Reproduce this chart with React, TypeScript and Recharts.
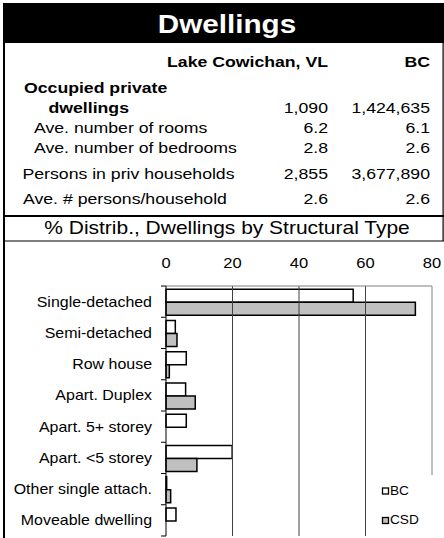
import { BarChart, Bar, XAxis, YAxis, ReferenceLine, Legend } from 'recharts';

// --- data ---
const categories = [
  'Single-detached',
  'Semi-detached',
  'Row house',
  'Apart. Duplex',
  'Apart. 5+ storey',
  'Apart. <5 storey',
  'Other single attach.',
  'Moveable dwelling',
];
const bcValues = [56.3, 2.8, 6.1, 5.9, 6.1, 19.9, 0.2, 3.0];
const csdValues = [75.0, 3.3, 1.0, 8.8, 0, 9.3, 1.4, 0];
const xTicks = [0, 20, 40, 60, 80];
const gridTicks = [20, 40, 60];

const placeName = 'Lake Cowichan, VL';
const provName = 'BC';
const statLabels = [
  'Occupied private',
  'dwellings',
  'Ave. number of rooms',
  'Ave. number of bedrooms',
  'Persons in priv households',
  'Ave. # persons/household',
];
const lakeStats = ['', '1,090', '6.2', '2.8', '2,855', '2.6'];
const bcStats = ['', '1,424,635', '6.1', '2.6', '3,677,890', '2.6'];

// layout of the table rows (x of label, baseline, bold)
const rowX = [24, 48.5, 34, 34, 22.5, 23];
const rowY = [92.5, 112.5, 132.5, 152.5, 178.5, 204];
const rowBold = [true, true, false, false, false, false];

const chartData = categories.map((name, i) => ({ name, BC: bcValues[i], CSD: csdValues[i] }));

const FONT = '"Liberation Sans", Arial, Helvetica, sans-serif';
const SX = 1.14;

function T({ x, y, size, anchor = 'start', bold = false, fill = '#000', sx = SX, children }: any) {
  return (
    <text
      transform={`translate(${x},${y}) scale(${sx},1)`}
      textAnchor={anchor}
      fontSize={size}
      fontWeight={bold ? 'bold' : 'normal'}
      fill={fill}
      fontFamily={FONT}
    >
      {children}
    </text>
  );
}

function XTick({ x, y, payload }: any) {
  return <T x={x} y={y} size={14.5} anchor="middle">{payload.value}</T>;
}

function YTick({ x, y, payload, index, visibleTicksCount }: any) {
  const half = payload.offset ?? 15.625;
  const ax = x + 14;
  return (
    <g>
      <T x={x} y={y + 5} size={14} anchor="end">{payload.value}</T>
      <line x1={ax - 5} x2={ax} y1={y - half} y2={y - half} stroke="#000" />
      {index === visibleTicksCount - 1 && (
        <line x1={ax - 5} x2={ax} y1={y + half} y2={y + half} stroke="#000" />
      )}
    </g>
  );
}

function LegendBox({ payload }: any) {
  return (
    <svg width={74} height={63}>
      {(payload || []).map((p: any, i: number) => (
        <g key={p.value}>
          <rect x={12.5} y={13 + i * 29.5} width={6} height={6} fill={p.payload?.fill ?? p.color} stroke="#000" strokeWidth={1.3} />
          <T x={20} y={19.8 + i * 29.5} size={12}>{p.value}</T>
        </g>
      ))}
    </svg>
  );
}

function StatsTable() {
  return (
    <svg width={444} height={242} style={{ position: 'absolute', left: 0, top: 0 }}>
      <rect x={3} y={3} width={441} height={40} fill="#000" />
      <T x={227} y={33} size={26.5} anchor="middle" bold fill="#fff" sx={1.12}>Dwellings</T>
      <rect x={442.5} y={43} width={1.2} height={198} fill="#000" />
      <T x={328} y={67} size={15.5} anchor="end" bold>{placeName}</T>
      <T x={430} y={67} size={15.5} anchor="end" bold>{provName}</T>
      {statLabels.map((label, i) => (
        <g key={label}>
          <T x={rowX[i]} y={rowY[i]} size={15.5} bold={rowBold[i]}>{label}</T>
          <T x={328} y={rowY[i]} size={15.5} anchor="end">{lakeStats[i]}</T>
          <T x={430} y={rowY[i]} size={15.5} anchor="end">{bcStats[i]}</T>
        </g>
      ))}
      <rect x={3} y={215} width={441} height={2} fill="#000" />
      <T x={227} y={233.5} size={18.4} anchor="middle">% Distrib., Dwellings by Structural Type</T>
      <rect x={3} y={240.5} width={441} height={1} fill="#000" />
    </svg>
  );
}

export default function App() {
  return (
    <div style={{ position: 'absolute', left: 0, top: 0, width: 444, height: 538, background: '#fff', overflow: 'hidden', fontFamily: FONT }}>
      <StatsTable />
      <div style={{ position: 'absolute', left: 0, top: 241 }}>
        <BarChart
          width={444}
          height={297}
          data={chartData}
          layout="vertical"
          margin={{ top: 20, right: 12, bottom: 2, left: 0 }}
          barCategoryGap="10%"
          barGap={0}
        >
          <XAxis
            type="number"
            orientation="top"
            domain={[0, 80]}
            ticks={xTicks}
            height={25}
            tickLine={false}
            tickSize={6}
            tickMargin={12}
            axisLine={{ stroke: '#808080' }}
            tick={<XTick />}
            interval={0}
          />
          <YAxis
            type="category"
            dataKey="name"
            width={166}
            tickSize={5}
            tickMargin={9}
            tickLine={false}
            axisLine={{ stroke: '#000' }}
            tick={<YTick />}
            interval={0}
          />
          {gridTicks.map((t) => (
            <ReferenceLine key={t} x={t} stroke="#404040" />
          ))}
          <ReferenceLine x={80} stroke="#808080" />
          <Bar dataKey="BC" name="BC" fill="#ffffff" stroke="#000" strokeWidth={1.5} isAnimationActive={false} />
          <Bar dataKey="CSD" name="CSD" fill="#c0c0c0" stroke="#000" strokeWidth={1.5} isAnimationActive={false} />
          <Legend
            layout="vertical"
            align="center"
            verticalAlign="middle"
            content={<LegendBox />}
            wrapperStyle={{ left: 370, top: 234, width: 74, height: 63, background: '#fff' }}
          />
        </BarChart>
      </div>
      <div style={{ position: 'absolute', left: 3, top: 43, width: 2, height: 495, background: '#000' }} />
    </div>
  );
}
